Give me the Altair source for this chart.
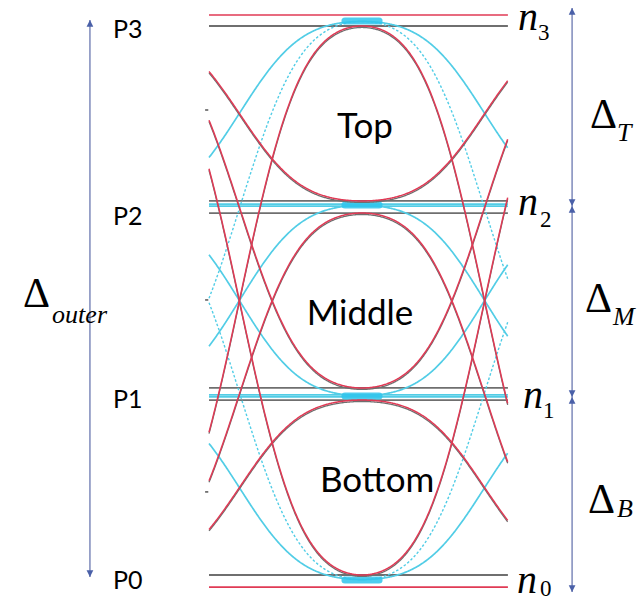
import altair as alt
import numpy as np
import pandas as pd

# ---------------------------------------------------------------------------
# PAM4 eye: amplitude in level units (P0 = 0 ... P3 = 3), time in UI
# (sampling instant at t = 0, neighbouring symbols at t = +/-1)
# ---------------------------------------------------------------------------

# red transitions: level at the sampling instant -> level at the neighbouring symbol
RED_FROM = [3.000, 2.044, 1.978, 1.022, 0.956, 0.000]
RED_TO = [0.000, 3.000, 0.000, 3.000, 0.000, 3.000]

# cyan transitions (the two swings crossing the middle eye are drawn dashed)
CYAN_FROM = [3.025, 3.025, 2.020, 0.980, -0.025, -0.025]
CYAN_TO = [2.020, 0.980, 0.980, 2.020, 0.980, 2.020]
CYAN_DASHED = [0, 1, 0, 0, 0, 1]

# steady-state level lines
GRAY_LEVELS = [3.000, 2.044, 1.978, 1.022, 0.956, 0.000]
CYAN_LEVELS = [2.027, 2.016, 0.984, 0.973]
RED_LEVELS = [3.060, -0.066]

# where the cyan traces pile up at the sampling instant
BUNDLE_LEVELS = [3.027, 2.022, 0.978, -0.027]
BUNDLE_HALF_WIDTH = 0.07

# eye labels
EYE_NAMES = ["Top", "Middle", "Bottom"]
EYE_T = [0.012, -0.008, 0.062]
EYE_V = [2.388, 1.366, 0.454]

# symbol labels on the left
P_NAMES = ["P3", "P2", "P1", "P0"]
P_V = [2.935, 1.913, 0.913, -0.076]

# decision-level labels on the right
N_SUB = ["3", "2", "1", "0"]
N_T = [0.639, 0.639, 0.660, 0.635]
N_V = [2.978, 1.967, 0.913, -0.098]
N_SUB_T = [0.721, 0.730, 0.742, 0.730]
N_SUB_V = [2.923, 1.902, 0.858, -0.115]

# eye heights
D_SUB = ["T", "M", "B", "outer"]
D_T = [0.934, 0.914, 0.926, -1.389]
D_V = [2.443, 1.437, 0.339, 1.464]
D_SUB_T = [1.045, 1.029, 1.045, -1.270]
D_SUB_V = [2.372, 1.366, 0.317, 1.377]

# arrows
LEFT_ARROW_T = -1.115
LEFT_ARROW_V = [3.033, -0.011]
RIGHT_ARROW_T = 0.861
RIGHT_ARROW_V = [3.098, 2.016, 0.973, -0.093]

# small marks at the left edge of the eye
EDGE_MARK_V = [2.541, 1.503, 0.454]

# Gaussian-filtered edges: spread of the edge around the crossing (UI)
EDGE_SIGMA = 0.195
T_MIN, T_MAX = -0.627, 0.598

X_DOMAIN = [-1.48361, 1.15574]
Y_DOMAIN = [-0.14208, 3.14208]

RED = "#e03a55"
CYAN = "#52cde6"
BUNDLE = "#2fc4ec"
GRAY = "#6f6f6f"
BLUE = "#4a60a8"
BLUE_LINE = "#6a78b0"

xs = alt.Scale(domain=X_DOMAIN, nice=False, zero=False)
ys = alt.Scale(domain=Y_DOMAIN, nice=False, zero=False)
X = lambda f: alt.X(f, scale=xs, axis=None)
Y = lambda f: alt.Y(f, scale=ys, axis=None)

t_grid = np.round(np.arange(T_MIN, T_MAX + 1e-9, 0.003), 4)


def traces(starts, ends, extra=None):
    rows = []
    for i, (a, b) in enumerate(zip(starts, ends)):
        for t in t_grid:
            r = {"cid": i, "t": float(t), "a": a, "b": b}
            if extra is not None:
                r["k"] = extra[i]
            rows.append(r)
    return pd.DataFrame(rows)


S = EDGE_SIGMA
# both neighbouring edges, normalised so the trace sits on its level at t = 0
shape_expr = (
    f"datum.a + (datum.b - datum.a) * "
    f"((cumulativeNormal((abs(datum.t) - 0.5) / {S}) + cumulativeNormal((-abs(datum.t) - 0.5) / {S})"
    f" - 2 * cumulativeNormal(-0.5 / {S})) / (1 - 2 * cumulativeNormal(-0.5 / {S})))"
)


def trace_layer(df, color, width, dash=None, shift=0.0):
    kw = dict(color=color, strokeWidth=width, interpolate="linear")
    if dash:
        kw["strokeDash"] = dash
    return (
        alt.Chart(df)
        .transform_calculate(y=shape_expr)
        .transform_calculate(yy=f"datum.y + ({shift})")
        .mark_line(**kw)
        .encode(x=X("t:Q"), y=Y("yy:Q"), detail="cid:N", order="t:Q")
    )


def level_layer(levels, color, width, t0=T_MIN, t1=T_MAX, **kw):
    df = pd.DataFrame({"v": levels, "t0": t0, "t1": t1})
    return alt.Chart(df).mark_rule(color=color, strokeWidth=width, **kw).encode(
        x=X("t0:Q"), x2="t1:Q", y=Y("v:Q")
    )


cyan_df = traces(CYAN_FROM, CYAN_TO, CYAN_DASHED)
red_df = traces(RED_FROM, RED_TO)

cyan_solid = trace_layer(cyan_df[cyan_df.k == 0], CYAN, 1.7)
cyan_dash = trace_layer(cyan_df[cyan_df.k == 1], CYAN, 1.4, dash=[2.5, 2])
red_under = trace_layer(red_df, GRAY, 1.3, shift=-0.008)
red_lines = trace_layer(red_df, RED, 1.5)

gray_flat = level_layer(GRAY_LEVELS, GRAY, 1.8)
cyan_flat = level_layer(CYAN_LEVELS, CYAN, 1.8)
red_flat = level_layer(RED_LEVELS, RED, 1.6)
bundle = level_layer(
    BUNDLE_LEVELS, BUNDLE, 7, t0=-BUNDLE_HALF_WIDTH, t1=BUNDLE_HALF_WIDTH,
    opacity=0.85, strokeCap="round",
)

edge_df = pd.DataFrame({"v": EDGE_MARK_V, "t0": -0.643, "t1": -0.630})
edge_marks = alt.Chart(edge_df).mark_rule(color="#555555", strokeWidth=1.5).encode(
    x=X("t0:Q"), x2="t1:Q", y=Y("v:Q")
)

# arrows
arrow_lines = alt.Chart(
    pd.DataFrame(
        {
            "t": [LEFT_ARROW_T, RIGHT_ARROW_T],
            "v0": [LEFT_ARROW_V[0], RIGHT_ARROW_V[0]],
            "v1": [LEFT_ARROW_V[-1], RIGHT_ARROW_V[-1]],
        }
    )
).mark_rule(color=BLUE_LINE, strokeWidth=1.3).encode(x=X("t:Q"), y=Y("v0:Q"), y2="v1:Q")

UP = "M0,0L0.5,1L-0.5,1Z"
DOWN = "M0,0L0.5,-1L-0.5,-1Z"
up_tips = pd.DataFrame(
    {"t": [LEFT_ARROW_T] + [RIGHT_ARROW_T] * 3,
     "v": [LEFT_ARROW_V[0]] + RIGHT_ARROW_V[:3]}
)
down_tips = pd.DataFrame(
    {"t": [LEFT_ARROW_T] + [RIGHT_ARROW_T] * 3,
     "v": [LEFT_ARROW_V[1]] + RIGHT_ARROW_V[1:]}
)
heads_up = alt.Chart(up_tips).mark_point(
    shape=UP, filled=True, size=180, color=BLUE, opacity=1, strokeWidth=0
).encode(x=X("t:Q"), y=Y("v:Q"))
heads_down = alt.Chart(down_tips).mark_point(
    shape=DOWN, filled=True, size=180, color=BLUE, opacity=1, strokeWidth=0
).encode(x=X("t:Q"), y=Y("v:Q"))


def text_layer(df, **kw):
    return alt.Chart(df).mark_text(color="black", baseline="alphabetic", **kw).encode(
        x=X("t:Q"), y=Y("v:Q"), text="s:N"
    )


eye_text = text_layer(
    pd.DataFrame({"s": EYE_NAMES, "t": EYE_T, "v": EYE_V}),
    font="Lato", fontSize=35, align="center",
)
p_text = text_layer(
    pd.DataFrame({"s": P_NAMES, "t": -1.0205, "v": P_V}),
    font="Lato", fontSize=25, align="left",
)
n_text = text_layer(
    pd.DataFrame({"s": ["n"] * 4, "t": N_T, "v": N_V}),
    font="Liberation Serif", fontStyle="italic", fontSize=40, align="left",
)
n_sub = text_layer(
    pd.DataFrame({"s": N_SUB, "t": N_SUB_T, "v": N_SUB_V}),
    font="Liberation Serif", fontSize=23, align="left",
)
d_text = text_layer(
    pd.DataFrame({"s": ["Δ"] * 4, "t": D_T, "v": D_V}),
    font="Liberation Serif", fontSize=42, align="left",
)
d_sub = text_layer(
    pd.DataFrame({"s": D_SUB, "t": D_SUB_T, "v": D_SUB_V}),
    font="Liberation Serif", fontStyle="italic", fontSize=26, align="left",
)

chart = (
    alt.layer(
        gray_flat, cyan_solid, cyan_dash, cyan_flat, bundle, red_under, red_lines, red_flat,
        edge_marks, arrow_lines, heads_up, heads_down,
        eye_text, p_text, n_text, n_sub, d_text, d_sub,
    )
    .properties(width=644, height=601, padding=0, autosize="none", background="white")
    .configure_view(stroke=None)
)

chart.save("out.html", embed_options={"renderer": "svg", "actions": False})
